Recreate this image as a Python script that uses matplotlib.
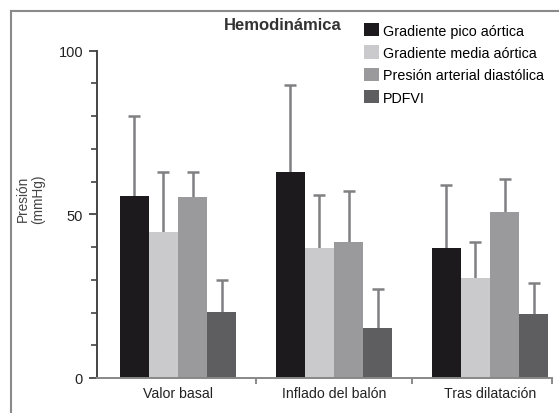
import matplotlib
matplotlib.use("Agg")
import matplotlib.pyplot as plt
import numpy as np
from matplotlib.patches import Patch
from matplotlib.lines import Line2D

plt.rcParams['font.family'] = ['Liberation Sans', 'DejaVu Sans']

categories = ["Valor basal", "Inflado del balón", "Tras dilatación"]
series_names = ["Gradiente pico aórtica", "Gradiente media aórtica",
                "Presión arterial diastólica", "PDFVI"]
means = {
    "Gradiente pico aórtica": [55.6, 62.8, 39.6],
    "Gradiente media aórtica": [44.5, 39.6, 30.5],
    "Presión arterial diastólica": [55.2, 41.7, 50.6],
    "PDFVI": [20.3, 15.2, 19.5],
}
upper = {
    "Gradiente pico aórtica": [80.2, 89.6, 58.9],
    "Gradiente media aórtica": [62.8, 55.9, 41.4],
    "Presión arterial diastólica": [62.8, 57.2, 60.7],
    "PDFVI": [29.8, 27.2, 29.0],
}
colors = ["#1c1a1d", "#cacacc", "#9a9a9c", "#5e5e61"]
yticks_major = [0, 50, 100]
ytick_labels = ["0", "50", "100"]

W, H = 559, 414
fig = plt.figure(figsize=(W / 100, H / 100), dpi=100)
ax = fig.add_axes([97 / W, 1 - 379 / H, (552 - 97) / W, (379 - 51.7) / H])

x = np.arange(len(categories))
bw = 0.186
for i, name in enumerate(series_names):
    pos = x + (i - 1.5) * bw
    vals = np.array(means[name])
    top = np.array(upper[name])
    ax.bar(pos, vals, width=bw, color=colors[i], edgecolor='none', zorder=2)
    ax.vlines(pos, vals, top, color='#808082', linewidth=1.8, zorder=1)
    ax.plot(pos, top, linestyle='none', marker='_', markersize=8,
            markeredgewidth=1.8, color='#808082', zorder=1)

ax.set_xlim(-81 / 156, 374 / 156)
ax.set_ylim(0, 100)
ax.set_yticks(yticks_major)
ax.set_yticklabels(ytick_labels, fontsize=10.5, color='#222222')
ax.set_yticks(np.arange(10, 100, 10), minor=True)
ax.tick_params(axis='y', which='major', length=6, width=1.3, color='#444444', pad=4)
ax.tick_params(axis='y', which='minor', length=4, width=1.2, color='#444444')
ax.set_xticks(x)
ax.set_xticklabels(categories, fontsize=10.2, color='#222222')
ax.tick_params(axis='x', which='major', length=0, pad=6)
ax.set_xticks([0.5, 1.5, 374 / 156], minor=True)
ax.tick_params(axis='x', which='minor', length=4, width=1.2, color='#777777')
for s in ['top', 'right']:
    ax.spines[s].set_visible(False)
ax.spines['left'].set_color('#444444')
ax.spines['left'].set_linewidth(1.4)
ax.spines['bottom'].set_color('#888888')
ax.spines['bottom'].set_linewidth(1.4)

fig.text(224 / W, 1 - 25 / H, "Hemodinámica", fontsize=12, fontweight='bold',
         color='#333333', ha='left', va='center')

fig.text(23 / W, 1 - 199 / H, "Presión", rotation=90, fontsize=9.8,
         color='#444444', ha='center', va='center')
fig.text(38 / W, 1 - 199 / H, "(mmHg)", rotation=90, fontsize=9.8,
         color='#444444', ha='center', va='center')

handles = [Patch(facecolor=c, edgecolor='none') for c in colors]
fig.legend(handles, series_names, loc='upper left',
           bbox_to_anchor=(364 / W, 1 - 24 / H), frameon=False,
           fontsize=10.3, handlelength=1.05, handleheight=1.05,
           handletextpad=0.3, labelspacing=0.55, borderpad=0, borderaxespad=0)

# outer border
fig.add_artist(Line2D([11 / W, 11 / W], [0, 1 - 12 / H], transform=fig.transFigure,
                      color='#8a8a8a', linewidth=1.5))
fig.add_artist(Line2D([11 / W, 1], [1 - 12 / H, 1 - 12 / H], transform=fig.transFigure,
                      color='#8a8a8a', linewidth=1.5))

fig.savefig("out.png", dpi=100)
